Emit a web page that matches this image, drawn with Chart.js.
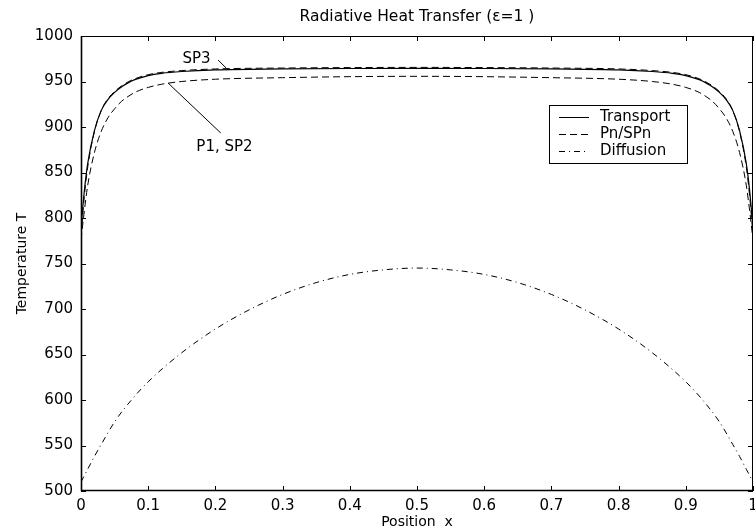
<!DOCTYPE html>
<html>
<head>
<meta charset="utf-8">
<script src="https://cdn.jsdelivr.net/npm/chart.js@4.4.0/dist/chart.umd.min.js"></script>
<style>
    html, body { margin: 0; padding: 0; background: #fff; }
</style>
</head>
<body>
<canvas id="heatChart" width="755" height="532"></canvas>
<script>
    // positions along the slab
    var xWall = [0, 0.005, 0.01, 0.02, 0.03, 0.04, 0.05, 0.06, 0.07, 0.08, 0.1, 0.12, 0.15, 0.2, 0.3, 0.4, 0.5,
        0.6, 0.7, 0.8, 0.85, 0.88, 0.9, 0.92, 0.93, 0.94, 0.95, 0.96, 0.97, 0.98, 0.99, 0.995, 1];
    var xDiff = [0, 0.01, 0.02, 0.03, 0.05, 0.075, 0.1, 0.15, 0.2, 0.25, 0.3, 0.35, 0.4, 0.45, 0.5,
        0.55, 0.6, 0.65, 0.7, 0.75, 0.8, 0.85, 0.9, 0.925, 0.95, 0.97, 0.98, 0.99, 1];

    // temperatures
    var transport = [790, 830, 860, 896, 918, 930, 938, 944, 948.5, 952, 956.5, 959, 961, 962.8, 963.8, 964.3, 964.5,
        964.3, 963.8, 962.8, 961, 959, 956.5, 952, 948.5, 944, 938, 930, 918, 896, 860, 830, 790];
    var sp3 = [780, 824, 856, 895, 918, 931, 939, 945, 949.5, 953, 957.5, 960, 962, 963.8, 964.8, 965.3, 965.5,
        965.3, 964.8, 963.8, 962, 960, 957.5, 953, 949.5, 945, 939, 931, 918, 895, 856, 824, 780];
    var p1sp2 = [776, 808, 836, 872, 895, 910, 920, 928, 933.5, 938, 943.5, 947, 950, 952.5, 954.2, 955.3, 955.7,
        955.3, 954.2, 952.5, 950, 947, 943.5, 938, 933.5, 928, 920, 910, 895, 872, 836, 808, 776];
    var diffusion = [510, 524, 538, 551, 576, 600, 620, 652, 678, 699, 716, 729, 738, 743, 745,
        743, 738, 729, 716, 699, 678, 652, 620, 600, 576, 551, 538, 524, 510];

    var legendNames = ['Transport', 'Pn/SPn', 'Diffusion'];

    var FONT = 'DejaVu Sans, Liberation Sans, Arial, sans-serif';
    var SOLID = [], DASHED = [7, 4], DASHDOT = [6, 4, 1, 4];

    function pts(xs, ys) {
        return xs.map(function (x, i) { return { x: x, y: ys[i] }; });
    }

    function line(label, data, dash, width) {
        return {
            label: label,
            data: data,
            borderColor: '#000',
            borderWidth: width,
            borderDash: dash,
            pointRadius: 0,
            fill: false,
            cubicInterpolationMode: 'monotone'
        };
    }

    // box, inward ticks, labels on curves and legend (matlab look)
    var frame = {
        id: 'frame',
        afterDraw: function (chart) {
            var ctx = chart.ctx, a = chart.chartArea;
            var xs = chart.scales.x, ys = chart.scales.y;
            ctx.save();
            ctx.strokeStyle = '#000';
            ctx.lineWidth = 1;
            ctx.setLineDash([]);
            ctx.strokeRect(a.left + 0.5, a.top + 0.5, a.right - a.left - 1, a.bottom - a.top - 1);
            ctx.lineWidth = 1.6;
            ctx.beginPath();
            ctx.moveTo(a.left + 0.5, a.top);
            ctx.lineTo(a.left + 0.5, a.bottom - 0.5);
            ctx.lineTo(a.right, a.bottom - 0.5);
            ctx.stroke();

            ctx.lineWidth = 1;
            ctx.beginPath();
            xs.ticks.forEach(function (t) {
                var px = Math.round(xs.getPixelForValue(t.value)) + 0.5;
                ctx.moveTo(px, a.bottom); ctx.lineTo(px, a.bottom - 5);
                ctx.moveTo(px, a.top); ctx.lineTo(px, a.top + 5);
            });
            ys.ticks.forEach(function (t) {
                var py = Math.round(ys.getPixelForValue(t.value)) + 0.5;
                ctx.moveTo(a.left, py); ctx.lineTo(a.left + 5, py);
                ctx.moveTo(a.right, py); ctx.lineTo(a.right - 5, py);
            });
            ctx.stroke();

            // curve labels
            ctx.font = '15px ' + FONT;
            ctx.fillStyle = '#000';
            ctx.textAlign = 'center';
            ctx.textBaseline = 'middle';
            ctx.fillText('SP3', xs.getPixelForValue(0.172), ys.getPixelForValue(975));
            ctx.fillText('P1, SP2', xs.getPixelForValue(0.2135), ys.getPixelForValue(877.5));
            ctx.beginPath();
            ctx.moveTo(xs.getPixelForValue(0.204), ys.getPixelForValue(973.6));
            ctx.lineTo(xs.getPixelForValue(0.216), ys.getPixelForValue(964.8));
            ctx.moveTo(xs.getPixelForValue(0.1295), ys.getPixelForValue(948.4));
            ctx.lineTo(xs.getPixelForValue(0.208), ys.getPixelForValue(893.4));
            ctx.stroke();

            // legend
            var bx = a.right - 204, by = a.top + 69, bw = 138, bh = 58;
            ctx.fillStyle = '#fff';
            ctx.fillRect(bx, by, bw, bh);
            ctx.strokeRect(bx + 0.5, by + 0.5, bw, bh);
            var dashes = [SOLID, DASHED, DASHDOT];
            var rows = [12, 29, 46];
            ctx.fillStyle = '#000';
            ctx.textAlign = 'left';
            legendNames.forEach(function (name, i) {
                var y = by + rows[i] + 0.5;
                ctx.setLineDash(dashes[i]);
                ctx.beginPath();
                ctx.moveTo(bx + 10, y);
                ctx.lineTo(bx + 40, y);
                ctx.stroke();
                ctx.setLineDash([]);
                ctx.fillText(name, bx + 51, y);
            });
            ctx.restore();
        }
    };

    var ctx = document.getElementById('heatChart');
    var myChart = new Chart(ctx, {
        type: 'line',
        data: {
            datasets: [
                line('Transport', pts(xWall, transport), SOLID, 1.2),
                line('SP3', pts(xWall, sp3), DASHED, 1),
                line('P1, SP2', pts(xWall, p1sp2), DASHED, 1),
                line('Diffusion', pts(xDiff, diffusion), DASHDOT, 1)
            ]
        },
        options: {
            responsive: false,
            animation: false,
            layout: { padding: { top: 0, right: 2, bottom: 0, left: 0 } },
            plugins: {
                legend: { display: false },
                tooltip: { enabled: false },
                title: {
                    display: true,
                    fullSize: false,
                    text: 'Radiative Heat Transfer (\u03b5=1 )',
                    color: '#000',
                    font: { family: FONT, size: 15.5, weight: 'normal' },
                    padding: { top: 8, bottom: 9.4 }
                }
            },
            scales: {
                x: {
                    type: 'linear',
                    min: 0,
                    max: 1,
                    grid: { display: false, drawTicks: false },
                    border: { display: false },
                    ticks: {
                        stepSize: 0.1,
                        color: '#000',
                        padding: 6,
                        maxRotation: 0,
                        font: { family: FONT, size: 15 },
                        callback: function (v) { return String(Math.round(v * 10) / 10); }
                    },
                    title: {
                        display: true,
                        text: 'Position  x',
                        color: '#000',
                        font: { family: FONT, size: 14 },
                        padding: { top: 0, bottom: 1 }
                    },
                    afterFit: function (scale) {
                        scale.height = 41;
                        scale.paddingLeft = 0;
                        scale.paddingRight = 0;
                    }
                },
                y: {
                    min: 500,
                    max: 1000,
                    grid: { display: false, drawTicks: false },
                    border: { display: false },
                    ticks: {
                        stepSize: 50,
                        color: '#000',
                        padding: 8,
                        font: { family: FONT, size: 15 },
                        callback: function (v) { return String(v); }
                    },
                    title: {
                        display: true,
                        text: 'Temperature T',
                        color: '#000',
                        font: { family: FONT, size: 14 },
                        padding: { top: 14, bottom: 0 }
                    },
                    afterFit: function (scale) {
                        scale.width = 81;
                        scale.paddingTop = 0;
                        scale.paddingBottom = 0;
                    }
                }
            }
        },
        plugins: [frame]
    });
</script>
</body>
</html>
